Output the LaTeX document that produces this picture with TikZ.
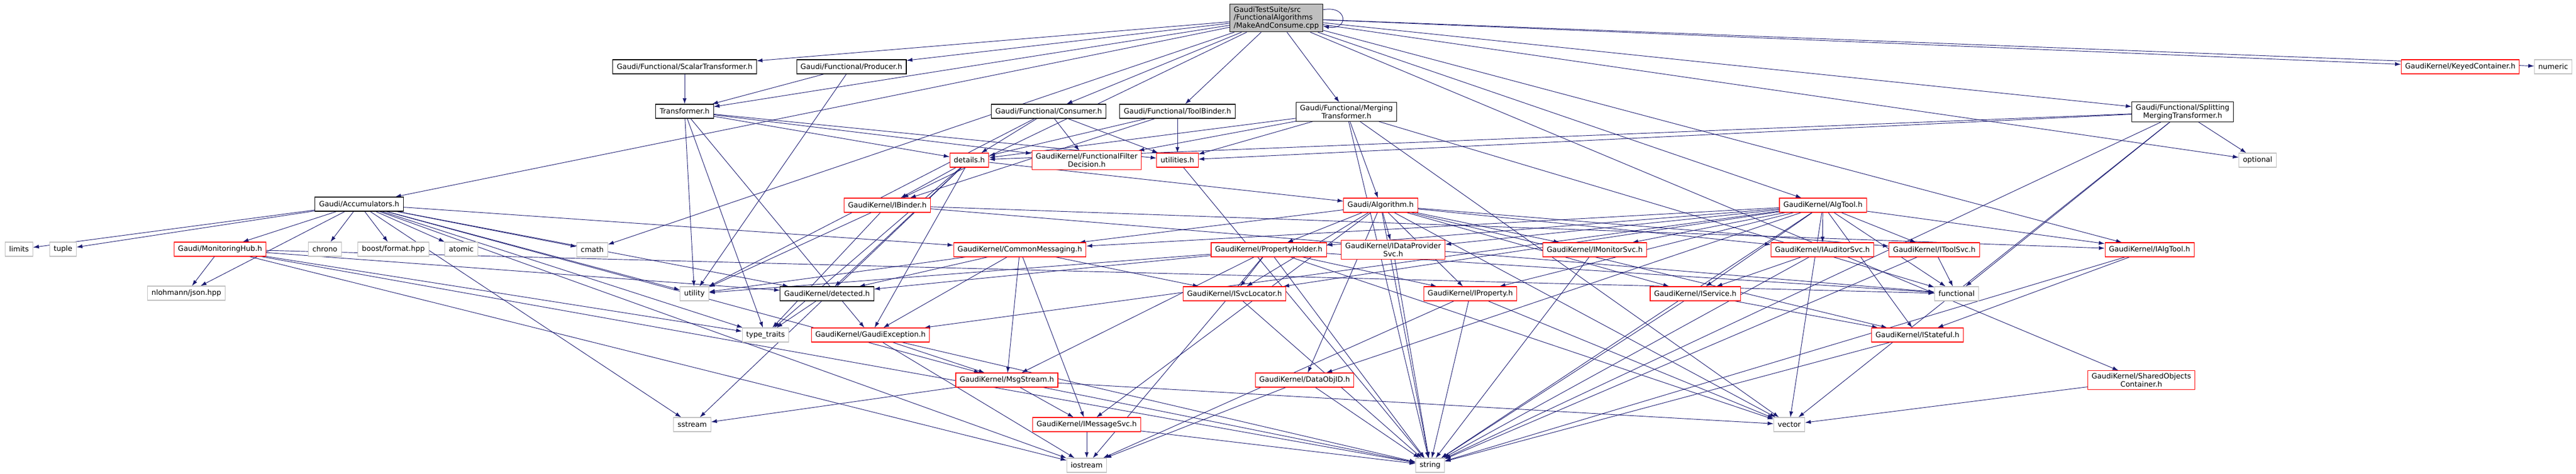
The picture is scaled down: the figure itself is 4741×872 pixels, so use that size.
\documentclass[tikz,border=0pt]{standalone}
\usepackage{fontspec}
\setmainfont{DejaVu Sans}
\usetikzlibrary{arrows.meta}

\definecolor{edgeblue}{HTML}{191970}
\definecolor{boxgray}{HTML}{BFBFBF}
\pgfdeclarelayer{bg}
\pgfsetlayers{bg,main}

\tikzset{
	hdr/.style={draw=black, fill=white, line width=0.8pt, inner xsep=5.5pt, inner ysep=3.5pt,
		minimum height=19.5pt, align=center, font=\fontsize{10}{11}\selectfont},
	hdrred/.style={hdr, draw=red},
	hdrsys/.style={hdr, draw=boxgray},
	hdrtop/.style={hdr, fill=boxgray, align=left},
	incl/.style={draw=edgeblue, line width=0.7pt, -{Latex[length=8pt,width=5.5pt]}}
}

\begin{document}
\begin{tikzpicture}[x=0.75pt, y=-0.75pt]
		\useasboundingbox (0, 0) rectangle (4741, 872);

		% the file itself
		\node[hdrtop] (mac) at (2349, 33) {GaudiTestSuite/src\\/FunctionalAlgorithms\\/MakeAndConsume.cpp};

		% headers it includes directly
		\node[hdr] (scalar) at (1260, 123) {Gaudi/Functional/ScalarTransformer.h};
		\node[hdr] (producer) at (1567, 123) {Gaudi/Functional/Producer.h};
		\node[hdrred] (keyed) at (4528, 123) {GaudiKernel/KeyedContainer.h};
		\node[hdrsys] (numeric) at (4699, 123) {numeric};
		\node[hdr] (transf) at (1260, 205) {Transformer.h};
		\node[hdr] (consumer) at (1930, 205) {Gaudi/Functional/Consumer.h};
		\node[hdr] (toolbinder) at (2167, 205) {Gaudi/Functional/ToolBinder.h};
		\node[hdr] (merging) at (2478, 206) {Gaudi/Functional/Merging\\Transformer.h};
		\node[hdr] (splitting) at (4017, 206) {Gaudi/Functional/Splitting\\MergingTransformer.h};

		\node[hdrred] (details) at (1784, 295) {details.h};
		\node[hdrred] (filterdec) at (2000, 295) {GaudiKernel/FunctionalFilter\\Decision.h};
		\node[hdrred] (utilities) at (2167, 295) {utilities.h};
		\node[hdrsys] (optional) at (4155, 295) {optional};

		\node[hdr] (accum) at (661, 376) {Gaudi/Accumulators.h};
		\node[hdrred] (ibinder) at (1633, 378) {GaudiKernel/IBinder.h};
		\node[hdrred] (algorithm) at (2541, 378) {Gaudi/Algorithm.h};
		\node[hdrred] (algtool) at (3355, 378) {GaudiKernel/AlgTool.h};

		% middle rows
		\node[hdrsys] (limits) at (35, 459) {limits};
		\node[hdrsys] (tuple) at (116, 459) {tuple};
		\node[hdrred] (monhub) at (405, 459) {Gaudi/MonitoringHub.h};
		\node[hdrsys] (chrono) at (598, 459) {chrono};
		\node[hdrsys] (boostfmt) at (724, 459) {boost/format.hpp};
		\node[hdrsys] (atomic) at (849, 459) {atomic};
		\node[hdrsys] (cmath) at (1090, 460) {cmath};
		\node[hdrred] (commonmsg) at (1877, 460) {GaudiKernel/CommonMessaging.h};
		\node[hdrred] (propholder) at (2335, 460) {GaudiKernel/PropertyHolder.h};
		\node[hdrred] (idataprov) at (2564, 460) {GaudiKernel/IDataProvider\\Svc.h};
		\node[hdrred] (imonsvc) at (2935, 460) {GaudiKernel/IMonitorSvc.h};
		\node[hdrred] (iaudsvc) at (3354, 460) {GaudiKernel/IAuditorSvc.h};
		\node[hdrred] (itoolsvc) at (3560, 460) {GaudiKernel/IToolSvc.h};
		\node[hdrred] (ialgtool) at (3956, 460) {GaudiKernel/IAlgTool.h};

		\node[hdrsys] (json) at (343, 540) {nlohmann/json.hpp};
		\node[hdrsys] (utility) at (1278, 541) {utility};
		\node[hdr] (detected) at (1522, 541) {GaudiKernel/detected.h};
		\node[hdrred] (isvcloc) at (2272, 541) {GaudiKernel/ISvcLocator.h};
		\node[hdrred] (iprop) at (2706, 541) {GaudiKernel/IProperty.h};
		\node[hdrred] (iservice) at (3120, 541) {GaudiKernel/IService.h};
		\node[hdrsys] (functional) at (3601, 541) {functional};

		\node[hdrsys] (typetraits) at (1409, 617) {type\_traits};
		\node[hdrred] (gaudiexc) at (1602, 617) {GaudiKernel/GaudiException.h};
		\node[hdrred] (istateful) at (3529, 617) {GaudiKernel/IStateful.h};

		\node[hdrred] (msgstream) at (1853, 700) {GaudiKernel/MsgStream.h};
		\node[hdrred] (dataobjid) at (2401, 700) {GaudiKernel/DataObjID.h};
		\node[hdrred] (sharedobj) at (3941, 700) {GaudiKernel/SharedObjects\\Container.h};

		% bottom rows
		\node[hdrsys] (sstream) at (1274, 782) {sstream};
		\node[hdrred] (imsgsvc) at (2000, 782) {GaudiKernel/IMessageSvc.h};
		\node[hdrsys] (vector) at (3293, 782) {vector};
		\node[hdrsys] (iostream) at (2000, 857) {iostream};
		\node[hdrsys] (string) at (2632, 857) {string};

		% include arrows
		\begin{pgfonlayer}{bg}
		\path (mac.10) edge[incl, out=10, in=-10, looseness=4] (mac.-10);
		\path (mac) edge[incl] (accum) edge[incl] (scalar) edge[incl] (producer) edge[incl] (transf)
			edge[incl] (consumer) edge[incl] (toolbinder) edge[incl] (merging) edge[incl] (splitting)
			edge[incl] (keyed) edge[incl] (numeric) edge[incl] (cmath) edge[incl] (ibinder)
			edge[incl] (algtool) edge[incl] (ialgtool) edge[incl] (optional) edge[incl] (sharedobj);
		\path (scalar) edge[incl] (transf);
		\path (producer) edge[incl] (transf) edge[incl] (utility);
		\path (transf) edge[incl] (details) edge[incl] (utilities) edge[incl] (filterdec)
			edge[incl] (utility) edge[incl] (typetraits) edge[incl] (gaudiexc);
		\path (consumer) edge[incl] (details) edge[incl] (filterdec) edge[incl] (utilities) edge[incl] (utility);
		\path (toolbinder) edge[incl] (utilities) edge[incl] (details) edge[incl] (ibinder);
		\path (merging) edge[incl] (details) edge[incl] (filterdec) edge[incl] (utilities) edge[incl] (algorithm)
			edge[incl] (functional) edge[incl] (vector) edge[incl] (string);
		\path (splitting) edge[incl] (details) edge[incl] (utilities) edge[incl] (optional)
			edge[incl] (functional) edge[incl] (vector) edge[incl] (string);
		\path (details) edge[incl] (ibinder) edge[incl] (detected) edge[incl] (typetraits)
			edge[incl] (sstream) edge[incl] (gaudiexc) edge[incl] (algorithm);
		\path (utilities) edge[incl] (string);

		% accumulators and monitoring
		\path (accum) edge[incl] (limits) edge[incl] (tuple) edge[incl] (json) edge[incl] (monhub)
			edge[incl] (chrono) edge[incl] (boostfmt) edge[incl] (atomic) edge[incl] (cmath)
			edge[incl] (commonmsg) edge[incl] (iostream) edge[incl] (sstream) edge[incl] (utility)
			edge[incl] (detected) edge[incl] (typetraits) edge[incl] (msgstream);
		\path (monhub) edge[incl] (json) edge[incl] (detected) edge[incl] (functional)
			edge[incl] (typetraits) edge[incl] (string) edge[incl] (iostream);
		\path (ibinder) edge[incl] (utility) edge[incl] (typetraits) edge[incl] (ialgtool) edge[incl] (functional);
		\path (detected) edge[incl] (typetraits);

		% messaging
		\path (commonmsg) edge[incl] (utility) edge[incl] (detected) edge[incl] (gaudiexc)
			edge[incl] (msgstream) edge[incl] (imsgsvc) edge[incl] (isvcloc);
		\path (gaudiexc) edge[incl] (msgstream) edge[incl] (iostream) edge[incl] (string);
		\path (msgstream) edge[incl] (sstream) edge[incl] (imsgsvc) edge[incl] (string) edge[incl] (vector);
		\path (imsgsvc) edge[incl] (iostream) edge[incl] (string);
		\path (dataobjid) edge[incl] (iostream) edge[incl] (string);

		% algorithm and tool
		\path (algorithm) edge[incl] (propholder) edge[incl] (idataprov) edge[incl] (imonsvc) edge[incl] (iprop)
			edge[incl] (isvcloc) edge[incl] (dataobjid) edge[incl] (imsgsvc) edge[incl] (commonmsg)
			edge[incl] (string) edge[incl] (vector) edge[incl] (iservice) edge[incl] (iaudsvc)
			edge[incl] (itoolsvc) edge[incl] (istateful);
		\path (algtool) edge[incl] (imonsvc) edge[incl] (iaudsvc) edge[incl] (itoolsvc) edge[incl] (iservice)
			edge[incl] (istateful) edge[incl] (functional) edge[incl] (ialgtool) edge[incl] (commonmsg)
			edge[incl] (propholder) edge[incl] (idataprov) edge[incl] (isvcloc) edge[incl] (iprop)
			edge[incl] (string) edge[incl] (vector) edge[incl] (dataobjid) edge[incl] (gaudiexc);
		\path (propholder) edge[incl] (isvcloc) edge[incl] (iprop) edge[incl] (string) edge[incl] (iostream)
			edge[incl] (utility) edge[incl] (detected) edge[incl] (msgstream) edge[incl] (vector)
			edge[incl] (functional);
		\path (idataprov) edge[incl] (string);
		\path (imonsvc) edge[incl] (string);
		\path (isvcloc) edge[incl] (string);
		\path (iprop) edge[incl] (string) edge[incl] (iostream) edge[incl] (vector);
		\path (iservice) edge[incl] (istateful) edge[incl] (string);
		\path (iaudsvc) edge[incl] (iservice) edge[incl] (string);
		\path (itoolsvc) edge[incl] (functional) edge[incl] (string);
		\path (ialgtool) edge[incl] (istateful) edge[incl] (string);
		\path (istateful) edge[incl] (string);
		\path (sharedobj) edge[incl] (vector);
		\end{pgfonlayer}

	\end{tikzpicture}
\end{document}
